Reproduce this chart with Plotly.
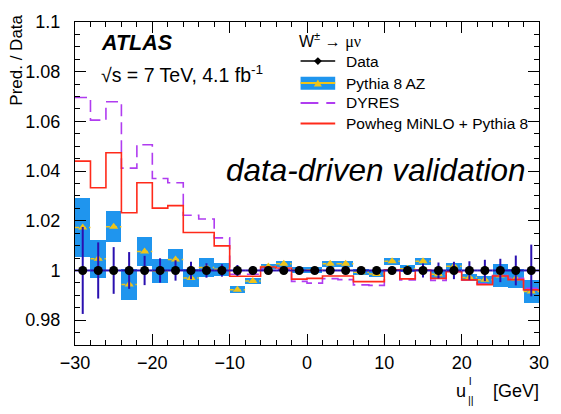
import plotly.graph_objects as go

# ---------------- data ----------------
bin_centers = [-29, -27, -25, -23, -21, -19, -17, -15, -13, -11, -9, -7, -5, -3, -1,
               1, 3, 5, 7, 9, 11, 13, 15, 17, 19, 21, 23, 25, 27, 29]
bin_half_width = 1.0

data_ratio = [1.0, 1.0, 1.0, 1.0, 1.0, 1.0, 1.0, 1.0, 1.0, 1.0, 1.0, 1.0, 1.0, 1.0, 1.0,
              1.0, 1.0, 1.0, 1.0, 1.0, 1.0, 1.0, 1.0, 1.0, 1.0, 1.0, 1.0, 1.0, 1.0, 1.0]
data_err = [0.0175, 0.0113, 0.0094, 0.0074, 0.0059, 0.0049, 0.0041, 0.0035, 0.0029, 0.0025,
            0.0022, 0.0018, 0.0012, 0.0010, 0.0010, 0.0010, 0.0010, 0.0010, 0.0010, 0.0010,
            0.0015, 0.0016, 0.0028, 0.0032, 0.0035, 0.0037, 0.0043, 0.0047, 0.0060, 0.0104]

pythia_az = [1.0173, 1.0047, 1.0176, 0.9944, 1.0076, 0.9998, 1.0044, 0.9970, 1.0012, 1.0005,
             0.9922, 0.9958, 1.0016, 1.0027, 1.0002, 1.0003, 1.0027, 1.0027, 0.9993, 0.9986,
             1.0037, 1.0007, 1.0037, 0.9985, 1.0017, 0.9972, 0.9963, 0.9980, 0.9968, 0.9915]
pythia_az_unc = [0.0120, 0.0077, 0.0063, 0.0063, 0.0057, 0.0048, 0.0044, 0.0037, 0.0037, 0.0026,
                 0.0014, 0.0013, 0.0012, 0.0012, 0.0012, 0.0012, 0.0012, 0.0012, 0.0012, 0.0012,
                 0.0013, 0.0013, 0.0014, 0.0016, 0.0015, 0.0015, 0.0016, 0.0048, 0.0038, 0.0047]

dyres = [1.0696, 1.0605, 1.0679, 1.0412, 1.0506, 1.0370, 1.0353, 1.0222, 1.0207, 1.0131,
         0.9985, 0.9985, 1.0005, 1.0005, 0.9956, 0.9949, 0.9967, 0.9963, 0.9942, 0.9940,
         1.0000, 0.9962, 1.0002, 0.9960, 0.9995, 0.9962, 0.9946, 0.9980, 0.9968, 0.9928]

powheg = [1.0440, 1.0333, 1.0474, 1.0232, 1.0353, 1.0251, 1.0261, 1.0153, 1.0153, 1.0099,
          0.9977, 0.9977, 1.0014, 1.0010, 0.9965, 0.9968, 0.9978, 0.9978, 0.9955, 0.9955,
          1.0003, 0.9966, 1.0002, 0.9968, 0.9995, 0.9962, 0.9943, 0.9978, 0.9963, 0.9922]

x_range = [-30, 30]
y_range = [0.97, 1.1]

# ---------------- styling ----------------
FONT = "Liberation Sans, Arial, Helvetica, sans-serif"
C_BLUE = "#1f95ee"
C_YEL = "#f0c419"
C_PURP = "#b03cf0"
C_RED = "#ff2a1a"
C_DATAERR = "#2a10b0"

# layout geometry (pixels)
L, R, T, B = 75, 17, 14, 69
W = 561 - L - R
H = 414 - T - B


def px(x):
    return (x - L) / W


def py(y):
    return (T + H - y) / H


edges = [c - bin_half_width for c in bin_centers] + [bin_centers[-1] + bin_half_width]

fig = go.Figure()

# Pythia 8 AZ uncertainty boxes
fig.add_trace(go.Bar(
    x=bin_centers,
    y=[2 * u for u in pythia_az_unc],
    base=[v - u for v, u in zip(pythia_az, pythia_az_unc)],
    width=2 * bin_half_width,
    marker=dict(color=C_BLUE, line=dict(width=0)),
    showlegend=False, hoverinfo="skip"))

# Pythia central values: dashed yellow bin lines + triangles
seg_x, seg_y = [], []
for c, v in zip(bin_centers, pythia_az):
    seg_x += [c - bin_half_width, c + bin_half_width, None]
    seg_y += [v, v, None]
fig.add_trace(go.Scatter(x=seg_x, y=seg_y, mode="lines",
                         line=dict(color=C_YEL, width=1.5, dash="4px,3px"),
                         showlegend=False, hoverinfo="skip"))
fig.add_trace(go.Scatter(x=bin_centers, y=pythia_az, mode="markers",
                         marker=dict(symbol="triangle-up", size=8, color=C_YEL),
                         showlegend=False))

# DYRES (dashed purple step)
fig.add_trace(go.Scatter(x=edges, y=dyres + [dyres[-1]], mode="lines",
                         line=dict(color=C_PURP, width=1.6, shape="hv", dash="12px,6px"),
                         showlegend=False))
# Powheg (red step)
fig.add_trace(go.Scatter(x=edges, y=powheg + [powheg[-1]], mode="lines",
                         line=dict(color=C_RED, width=1.6, shape="hv"),
                         showlegend=False))

# Data
fig.add_trace(go.Scatter(
    x=bin_centers, y=data_ratio, mode="markers",
    marker=dict(color="black", size=9),
    error_y=dict(type="data", array=data_err, color=C_DATAERR, thickness=2, width=0),
    error_x=dict(type="constant", value=bin_half_width, color=C_DATAERR, thickness=2, width=0),
    showlegend=False))

# ---------------- annotations ----------------
ann = []


def text(x, y, s, size, xanchor="left", yanchor="middle", angle=0, color="black", family=FONT):
    ann.append(dict(xref="paper", yref="paper", x=px(x), y=py(y), text=s,
                    showarrow=False, xanchor=xanchor, yanchor=yanchor, textangle=angle,
                    font=dict(family=family, size=size, color=color)))


text(99, 36, "<b><i>ATLAS</i></b>", 21.5)
text(99, 67, "√s = 7 TeV, 4.1 fb<sup>-1</sup>", 19.5)
text(226, 166, "<i>data-driven validation</i>", 31.5)
text(15, 53, "Pred. / Data", 17, xanchor="center", angle=-90)

# x-axis title
text(546, 392, "[GeV]", 18, xanchor="right")
text(472, 392, "u", 18, xanchor="right")
text(471, 382, "l", 11)
text(470, 401, "||", 11)

# legend
text(299, 33, "W<sup>±</sup> → <span style='font-family:Liberation Serif'>μν</span>", 16)
text(347, 54, "Data", 15.5)
text(347, 77, "Pythia 8 AZ", 15.5)
text(347, 97, "DYRES", 15.5)
text(347, 118, "Powheg MiNLO + Pythia 8", 15.5)

shapes = []


def seg(x0, x1, y, color, width=2):
    shapes.append(dict(type="line", xref="paper", yref="paper",
                       x0=px(x0), x1=px(x1), y0=py(y), y1=py(y),
                       line=dict(color=color, width=width)))


def poly(points, color):
    path = "M " + " L ".join(f"{px(a)},{py(b)}" for a, b in points) + " Z"
    shapes.append(dict(type="path", xref="paper", yref="paper", path=path,
                       fillcolor=color, line=dict(width=0)))


# Data
seg(303, 338, 54, "black", 1.5)
poly([(316.5, 54), (320.5, 50), (324.5, 54), (320.5, 58)], "black")
# Pythia
shapes.append(dict(type="rect", xref="paper", yref="paper",
                   x0=px(303), x1=px(338), y0=py(83.5), y1=py(70),
                   fillcolor=C_BLUE, line=dict(width=0)))
seg(303, 338, 76.5, C_YEL, 2)
poly([(316.5, 80), (324.5, 80), (320.5, 73)], C_YEL)
# DYRES
seg(303, 321, 97, C_PURP, 2)
seg(329, 338, 97, C_PURP, 2)
# Powheg
seg(303, 338, 118, C_RED, 2)

axis_common = dict(
    ticks="inside", tickcolor="black", tickwidth=1, ticklen=11,
    showline=True, linecolor="black", linewidth=1, mirror="allticks",
    showgrid=False, zeroline=False,
    tickfont=dict(family=FONT, size=18, color="black"),
)

fig.update_layout(
    width=561, height=414,
    margin=dict(l=L, r=R, t=T, b=B, pad=0),
    paper_bgcolor="white", plot_bgcolor="white",
    barmode="overlay", bargap=0,
    xaxis=dict(range=x_range, dtick=10, tick0=0, ticklabelstandoff=1,
               minor=dict(dtick=2, ticklen=5, ticks="inside", tickcolor="black", showgrid=False),
               **axis_common),
    yaxis=dict(range=y_range, dtick=0.02, tick0=1, ticklabelstandoff=10,
               minor=dict(dtick=0.005, ticklen=5, ticks="inside", tickcolor="black", showgrid=False),
               **axis_common),
    annotations=ann,
    shapes=shapes,
    showlegend=False,
)

fig.write_html("out.html")
